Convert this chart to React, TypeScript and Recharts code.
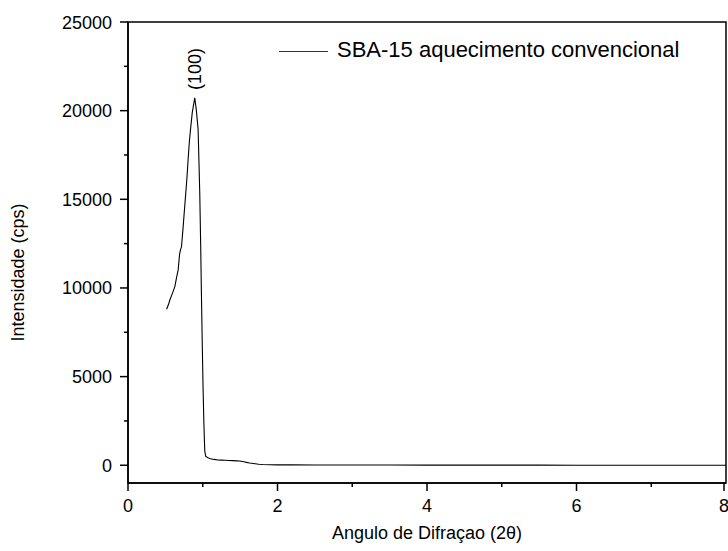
import React from 'react';
import {
	LineChart,
	Line,
	XAxis,
	YAxis,
	Legend,
	ReferenceArea,
	ReferenceDot,
} from 'recharts';

const FONT = '"Liberation Sans", Arial, sans-serif';

// 2theta (deg) and intensity (cps)
const angles = [
	0.516, 0.54, 0.56, 0.59, 0.627, 0.65, 0.671, 0.69, 0.702, 0.716, 0.738, 0.755,
	0.773, 0.79, 0.804, 0.82, 0.836, 0.86, 0.893, 0.915, 0.938, 0.95, 0.96, 0.972,
	0.982, 0.993, 1.004, 1.015, 1.027, 1.04, 1.07, 1.093, 1.15, 1.2, 1.25, 1.3,
	1.35, 1.4, 1.45, 1.493, 1.55, 1.6, 1.627, 1.7, 1.75, 1.8, 1.9, 2.0, 2.2, 2.5,
	3, 3.5, 4, 4.5, 5, 5.5, 6, 6.5, 7, 7.5, 8,
];
const intensity = [
	8800, 9050, 9320, 9650, 10070, 10600, 11020, 11900, 12150, 12330, 13460, 14400,
	15350, 16300, 17230, 18200, 18930, 19900, 20720, 20000, 18930, 17000, 15350, 12500,
	9700, 7000, 4420, 2400, 800, 500, 430, 380, 330, 300, 290, 280,
	270, 260, 250, 243, 200, 150, 130, 90, 60, 40, 30, 25, 20, 18,
	15, 12, 10, 10, 8, 8, 5, 5, 5, 3, 3,
];

const xTicks = [0, 1, 2, 3, 4, 5, 6, 7, 8];
const xLabeled = [0, 2, 4, 6, 8];
const yTicks = [0, 2500, 5000, 7500, 10000, 12500, 15000, 17500, 20000, 22500, 25000];
const yLabeled = [0, 5000, 10000, 15000, 20000, 25000];

const seriesName = 'SBA-15 aquecimento convencional';
const peakLabel = '(100)';
const peak = { x: 0.893, y: 20720 };

const data = angles.map((a, i) => ({ angle: a, value: intensity[i] }));

const XTick = (props: any) => {
	const { x, y, payload } = props;
	const major = xLabeled.includes(payload.value);
	return (
		<g>
			<line x1={x} x2={x} y1={y} y2={y + (major ? 8 : 4)} stroke="#000" strokeWidth={1.5} />
			{major && (
				<text x={x} y={y + 29} textAnchor="middle" fontSize={18} fontFamily={FONT} fill="#000">
					{payload.value}
				</text>
			)}
		</g>
	);
};

const YTick = (props: any) => {
	const { x, y, payload } = props;
	const major = yLabeled.includes(payload.value);
	return (
		<g>
			<line x1={x - (major ? 8 : 4)} x2={x} y1={y} y2={y} stroke="#000" strokeWidth={1.5} />
			{major && (
				<text x={x - 16} y={y + 6.5} textAnchor="end" fontSize={18} fontFamily={FONT} fill="#000">
					{payload.value}
				</text>
			)}
		</g>
	);
};

const LegendBox = () => (
	<div style={{ display: 'flex', alignItems: 'center', fontFamily: FONT, fontSize: 22, whiteSpace: 'nowrap' }}>
		<span style={{ display: 'inline-block', width: 49, height: 0, borderTop: '1px solid #333', marginRight: 9, marginTop: 3 }} />
		<span style={{ color: '#000' }}>{seriesName}</span>
	</div>
);

export default function App() {
	return (
		<div style={{ position: 'absolute', left: 0, top: 0 }}>
			<LineChart width={728} height={551} data={data} margin={{ top: 22, right: 2, bottom: 0, left: 0 }}>
				<XAxis
					dataKey="angle"
					type="number"
					domain={[0, 8]}
					ticks={xTicks}
					tick={<XTick />}
					tickLine={false}
					tickSize={0}
					tickMargin={0}
					height={68}
					axisLine={{ stroke: '#000', strokeWidth: 1.5 }}
					label={{
						content: ({ viewBox }: any) => (
							<text
								x={viewBox.x + viewBox.width / 2}
								y={539}
								textAnchor="middle"
								fontSize={18}
								fontFamily={FONT}
								fill="#000"
							>
								Angulo de Difraçao (2θ)
							</text>
						),
					}}
				/>
				<YAxis
					type="number"
					domain={[-1000, 25000]}
					ticks={yTicks}
					tick={<YTick />}
					tickLine={false}
					tickSize={0}
					tickMargin={0}
					width={128}
					axisLine={{ stroke: '#000', strokeWidth: 1.5 }}
					label={{
						content: ({ viewBox }: any) => {
							const cy = viewBox.y + viewBox.height / 2 + 20;
							return (
								<text
									x={24}
									y={cy}
									transform={`rotate(-90, 24, ${cy})`}
									textAnchor="middle"
									fontSize={18}
									fontFamily={FONT}
									fill="#000"
								>
									Intensidade (cps)
								</text>
							);
						},
					}}
				/>
				<ReferenceArea x1={0} x2={8} y1={-1000} y2={25000} fill="none" stroke="#000" strokeWidth={1.5} />
				<Legend
					layout="horizontal"
					verticalAlign="middle"
					align="center"
					content={<LegendBox />}
					wrapperStyle={{ position: 'absolute', left: 279, top: 37, width: 'auto' }}
				/>
				<Line
					dataKey="value"
					name={seriesName}
					stroke="#000"
					strokeWidth={1.1}
					dot={false}
					isAnimationActive={false}
				/>
				<ReferenceDot
					x={peak.x}
					y={peak.y}
					r={1}
					fill="none"
					stroke="none"
					label={{
						content: ({ viewBox }: any) => {
							const cx = viewBox.x + viewBox.width / 2;
							const cy = viewBox.y + viewBox.height / 2 - 29;
							return (
								<text
									x={cx}
									y={cy}
									transform={`rotate(-90, ${cx}, ${cy})`}
									textAnchor="middle"
									dominantBaseline="central"
									fontSize={18}
									fontFamily={FONT}
									fill="#000"
								>
									{peakLabel}
								</text>
							);
						},
					}}
				/>
			</LineChart>
		</div>
	);
}
